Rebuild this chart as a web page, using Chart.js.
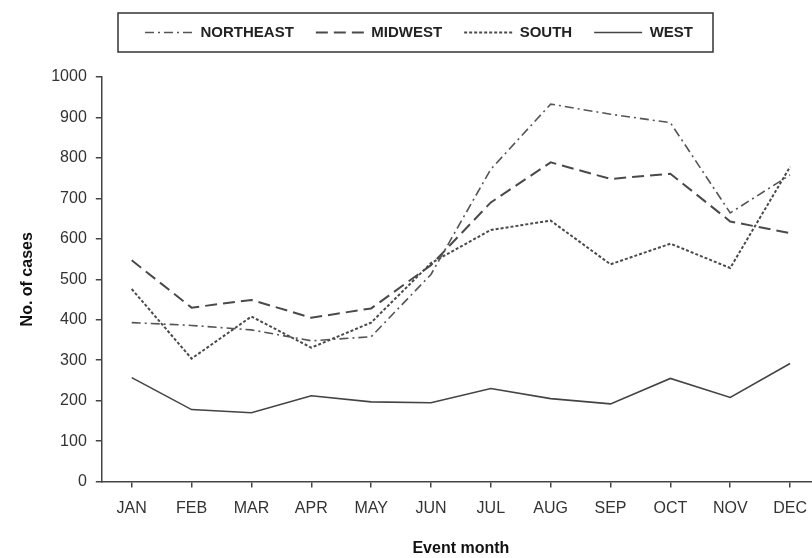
<!DOCTYPE html>
<html>
<head>
<meta charset="utf-8">
<script src="https://cdn.jsdelivr.net/npm/chart.js@4.4.0/dist/chart.umd.min.js"></script>
<style>
  html, body { margin: 0; padding: 0; background: #fff; overflow: hidden; }
  #wrap { width: 820px; height: 558px; }
</style>
</head>
<body>
<div id="wrap"><canvas id="chart"></canvas></div>
<script>
const months = ['JAN', 'FEB', 'MAR', 'APR', 'MAY', 'JUN', 'JUL', 'AUG', 'SEP', 'OCT', 'NOV', 'DEC'];
const northeast = [393, 386, 375, 348, 358, 512, 772, 933, 908, 887, 664, 758];
const midwest = [547, 430, 449, 405, 428, 535, 690, 789, 748, 761, 643, 614];
const south = [476, 304, 408, 331, 393, 540, 622, 645, 537, 588, 528, 778];
const west = [257, 178, 170, 212, 197, 195, 230, 205, 192, 255, 208, 292];

// box round the legend
const legendBox = {
    id: 'legendBox',
    afterDraw(c) {
        const boxes = c.legend.legendHitBoxes;
        if (!boxes || !boxes.length) return;
        const ctx = c.ctx;
        const first = boxes[0], last = boxes[boxes.length - 1];
        ctx.save();
        ctx.strokeStyle = '#333';
        ctx.lineWidth = 1.5;
        ctx.strokeRect(first.left - 27, first.top - 12, (last.left + last.width) - first.left + 47, first.height + 24);
        ctx.restore();
    }
};

// extra room under the legend
const legendMargin = {
    id: 'legendMargin',
    beforeInit(c) {
        const fit = c.legend.fit;
        c.legend.fit = function () {
            fit.bind(c.legend)();
            this.height += 27;
        };
    }
};

const lineSet = (label, data, dash, width, color) => ({
    label: label,
    data: data,
    borderColor: color,
    backgroundColor: 'transparent',
    borderWidth: width,
    borderDash: dash,
    pointRadius: 0,
    pointStyle: 'line',
    tension: 0,
    fill: false
});

new Chart(document.getElementById('chart').getContext('2d'), {
    type: 'line',
    data: {
        labels: months,
        datasets: [
            lineSet('NORTHEAST', northeast, [9, 4, 2, 4], 1.6, '#555'),
            lineSet('MIDWEST', midwest, [12, 6], 2, '#4a4a4a'),
            lineSet('SOUTH', south, [3, 2], 2, '#4a4a4a'),
            lineSet('WEST', west, [], 1.6, '#444')
        ]
    },
    options: {
        responsive: true,
        maintainAspectRatio: false,
        animation: false,
        layout: { padding: { top: 3, left: 18, right: 0, bottom: 0 } },
        plugins: {
            tooltip: { enabled: false },
            legend: {
                position: 'top',
                labels: {
                    usePointStyle: true,
                    pointStyle: 'line',
                    pointStyleWidth: 48,
                    padding: 22,
                    color: '#222',
                    font: { family: 'Liberation Sans', size: 15, weight: 'bold' },
                    // keep the line dash of each series in its legend sample
                    generateLabels: (c) => Chart.defaults.plugins.legend.labels.generateLabels(c).map(item => {
                        const ds = c.data.datasets[item.datasetIndex];
                        item.lineDash = ds.borderDash;
                        item.lineWidth = ds.borderWidth;
                        item.strokeStyle = ds.borderColor;
                        return item;
                    })
                }
            }
        },
        scales: {
            x: {
                offset: true,
                border: { color: '#444', width: 1.5 },
                grid: { drawOnChartArea: false, drawTicks: true, tickLength: 6, color: '#444', lineWidth: 1.5 },
                ticks: {
                    color: '#333',
                    padding: 11,
                    maxRotation: 0,
                    font: { family: 'Liberation Sans', size: 16 }
                },
                title: {
                    display: true,
                    text: 'Event month',
                    color: '#111',
                    padding: { top: 10, bottom: 0 },
                    font: { family: 'Liberation Sans', size: 16, weight: 'bold' }
                }
            },
            y: {
                min: 0,
                max: 1000,
                border: { color: '#444', width: 1.5 },
                grid: { drawOnChartArea: false, drawTicks: true, tickLength: 6, color: '#444', lineWidth: 1.5 },
                ticks: {
                    stepSize: 100,
                    color: '#333',
                    padding: 9,
                    font: { family: 'Liberation Sans', size: 16 },
                    callback: v => String(v)
                },
                title: {
                    display: true,
                    text: 'No. of cases',
                    color: '#111',
                    padding: { top: 0, bottom: 5 },
                    font: { family: 'Liberation Sans', size: 16, weight: 'bold' }
                }
            }
        }
    },
    plugins: [legendBox, legendMargin]
});
</script>
</body>
</html>
